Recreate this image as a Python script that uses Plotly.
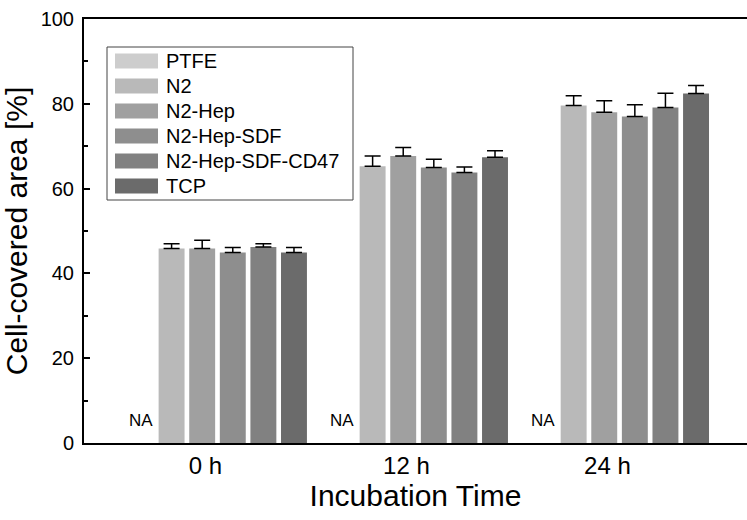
import plotly.graph_objects as go

# ---------------- data ----------------
times = ["0 h", "12 h", "24 h"]
series_names = ["PTFE", "N2", "N2-Hep", "N2-Hep-SDF", "N2-Hep-SDF-CD47", "TCP"]

ptfe_mean = [None, None, None]          # not available (NA)
n2_mean = [45.9, 65.3, 79.6]
n2hep_mean = [45.9, 67.7, 78.0]
n2hepsdf_mean = [44.9, 65.0, 77.0]
n2hepsdfcd47_mean = [46.2, 63.8, 79.1]
tcp_mean = [44.9, 67.4, 82.4]

ptfe_err = [0, 0, 0]
n2_err = [1.1, 2.4, 2.3]
n2hep_err = [1.9, 2.0, 2.7]
n2hepsdf_err = [1.2, 1.9, 2.8]
n2hepsdfcd47_err = [0.8, 1.3, 3.4]
tcp_err = [1.2, 1.5, 1.9]

y_ticks = [0, 20, 40, 60, 80, 100]

means = [ptfe_mean, n2_mean, n2hep_mean, n2hepsdf_mean, n2hepsdfcd47_mean, tcp_mean]
errs = [ptfe_err, n2_err, n2hep_err, n2hepsdf_err, n2hepsdfcd47_err, tcp_err]

# ---------------- style ----------------
colors = ["#cdcdcd", "#b9b9b9", "#a0a0a0", "#8e8e8e", "#818181", "#6b6b6b"]
FONT = "Liberation Sans, Arial, sans-serif"
W, H = 747, 520
ML, MR, MT, MB = 84, 0, 19, 77
SLOT = 0.1522
BARW = 0.129
n_series = len(series_names)

fig = go.Figure()
for k, name in enumerate(series_names):
    xs = [g + (k - (n_series - 1) / 2) * SLOT for g in range(len(times))]
    fig.add_trace(go.Bar(
        x=xs, y=means[k], width=BARW, name=name,
        marker=dict(color=colors[k], line=dict(width=0)),
        error_y=dict(type="data", symmetric=False, array=errs[k],
                     arrayminus=[0] * len(times), color="black",
                     thickness=1.5, width=8, visible=k > 0),
        showlegend=False,
    ))
    # NA labels for missing values
    for g, v in enumerate(means[k]):
        if v is None:
            fig.add_annotation(x=xs[g], y=0, xref="x", yref="y", text="NA",
                               showarrow=False, yanchor="bottom", yshift=11,
                               font=dict(family=FONT, size=17, color="black"))

# ---------------- custom legend ----------------
PW = W - ML - MR
PH = H - MT - MB


def px2x(px):
    return (px - ML) / PW


def py2y(py):
    return (H - MB - py) / PH


box_l, box_t, box_r, box_b = 107, 47, 353, 200
fig.add_shape(type="rect", xref="paper", yref="paper",
              x0=px2x(box_l), x1=px2x(box_r), y0=py2y(box_b), y1=py2y(box_t),
              line=dict(color="#444444", width=1), fillcolor="white", layer="above")
for k, name in enumerate(series_names):
    cy = 61 + 25 * k
    fig.add_shape(type="rect", xref="paper", yref="paper",
                  x0=px2x(115), x1=px2x(158), y0=py2y(cy + 7.5), y1=py2y(cy - 7.5),
                  line=dict(width=0), fillcolor=colors[k], layer="above")
    fig.add_annotation(xref="paper", yref="paper", x=px2x(164), y=py2y(cy),
                       text=name, showarrow=False, xanchor="left", yanchor="middle",
                       font=dict(family=FONT, size=20, color="black"))

fig.update_layout(
    width=W, height=H,
    margin=dict(l=ML, r=MR, t=MT, b=MB, pad=0),
    paper_bgcolor="white", plot_bgcolor="white",
    barmode="overlay",
    font=dict(family=FONT, color="black"),
    showlegend=False,
)
fig.update_xaxes(
    range=[-0.664, 2.634],
    tickmode="array",
    tickvals=[g - 0.06 for g in range(len(times))],
    ticktext=times,
    ticks="", showgrid=False, zeroline=False,
    showline=True, linecolor="black", linewidth=2, mirror=True,
    tickfont=dict(family=FONT, size=24),
    title=dict(text="Incubation Time", font=dict(family=FONT, size=30), standoff=2),
)
fig.update_yaxes(
    range=[0, 100],
    tickmode="array", tickvals=y_ticks,
    ticks="inside", ticklen=6, tickwidth=1.5, tickcolor="black",
    minor=dict(dtick=10, ticks="inside", ticklen=4, tickwidth=1.5, tickcolor="black"),
    showgrid=False, zeroline=False,
    showline=True, linecolor="black", linewidth=2, mirror=False,
    tickfont=dict(family=FONT, size=20),
    ticklabelstandoff=4,
    title=dict(text="Cell-covered area [%]", font=dict(family=FONT, size=30), standoff=4),
)

fig.write_html("out.html")
